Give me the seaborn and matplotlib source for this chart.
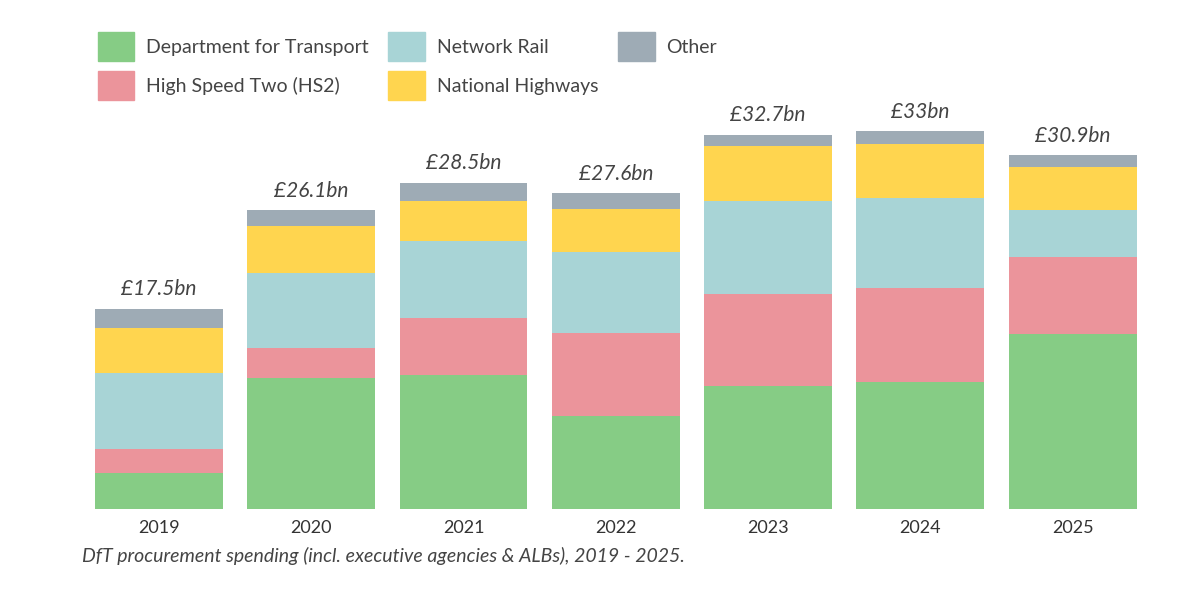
import matplotlib
matplotlib.use("Agg")
import matplotlib.pyplot as plt
import seaborn as sns
import numpy as np
import pandas as pd
from matplotlib.patches import Patch

years = ["2019", "2020", "2021", "2022", "2023", "2024", "2025"]
dft = [3.1, 11.4, 11.7, 8.1, 10.7, 11.1, 15.3]
hs2 = [2.1, 2.7, 5.0, 7.3, 8.1, 8.2, 6.7]
network_rail = [6.7, 6.5, 6.7, 7.0, 8.1, 7.9, 4.1]
highways = [3.9, 4.1, 3.5, 3.8, 4.8, 4.7, 3.8]
other = [1.7, 1.4, 1.6, 1.4, 1.0, 1.1, 1.0]
total_labels = ["£17.5bn", "£26.1bn", "£28.5bn", "£27.6bn", "£32.7bn", "£33bn", "£30.9bn"]

series = [("Department for Transport", dft, "#86CC85"),
          ("High Speed Two (HS2)", hs2, "#EB949B"),
          ("Network Rail", network_rail, "#A8D4D6"),
          ("National Highways", highways, "#FFD54F"),
          ("Other", other, "#9EABB5")]

sns.set_theme(style="white")
plt.rcParams['font.family'] = ['Lato', 'DejaVu Sans']

fig = plt.figure(figsize=(12, 6), dpi=100)
ax = fig.add_axes([60/1200, 91/600, 1110/1200, 489/600])

cum = np.cumsum([s[1] for s in series], axis=0)
for i in range(len(series) - 1, -1, -1):
    df = pd.DataFrame({"year": years, "v": cum[i]})
    sns.barplot(data=df, x="year", y="v", color=series[i][2], width=0.84,
                saturation=1, ax=ax, linewidth=0)

for j, lab in enumerate(total_labels):
    ax.text(j, cum[-1][j] + 0.8, lab, ha="center", va="bottom",
            fontsize=15, style="italic", color="#444444")

ax.set_xlim(-0.65, 6.64)
ax.set_ylim(0, 42.7)
ax.set_xlabel("")
ax.set_ylabel("")
ax.set_yticks([])
for sp in ax.spines.values():
    sp.set_visible(False)
ax.tick_params(axis="x", labelsize=13, colors="#333333", length=0, pad=8)

handles = [Patch(color=c, label=n) for n, _, c in series]
fig.legend(handles=handles, ncol=3, loc="upper left", bbox_to_anchor=(80/1200, 0.975),
           frameon=False, fontsize=14, handlelength=1.9, handleheight=1.9,
           columnspacing=1.0, labelspacing=0.5, handletextpad=0.6,
           labelcolor="#444444")

fig.text(82/1200, 1 - 556/600, "DfT procurement spending (incl. executive agencies & ALBs), 2019 - 2025.",
         fontsize=14, style="italic", color="#444444", va="center")

fig.savefig("out.png", dpi=100)
